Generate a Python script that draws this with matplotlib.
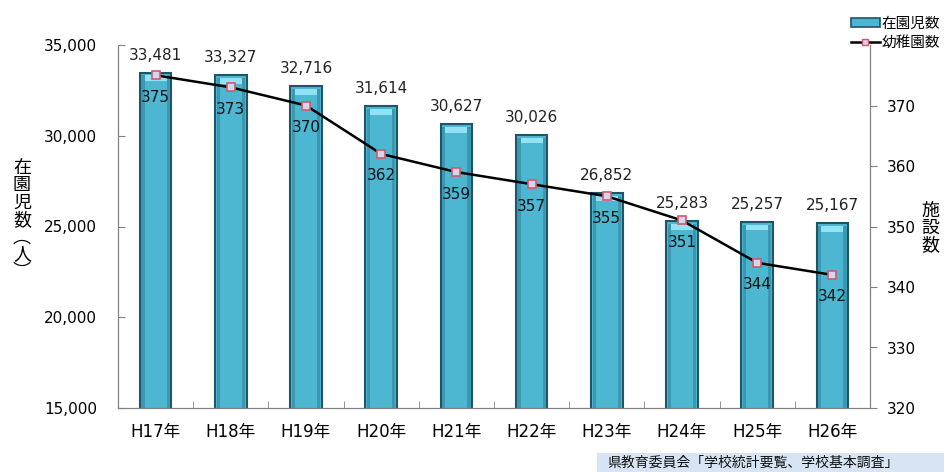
import numpy as np
import matplotlib.pyplot as plt
from matplotlib.patches import Rectangle
from matplotlib.lines import Line2D

plt.rcParams['font.family'] = ['DejaVu Sans', 'Noto Sans CJK JP']

# data
years    = ['H17年', 'H18年', 'H19年', 'H20年', 'H21年', 'H22年', 'H23年', 'H24年', 'H25年', 'H26年']
children = [33481, 33327, 32716, 31614, 30627, 30026, 26852, 25283, 25257, 25167]
schools  = [375, 373, 370, 362, 359, 357, 355, 351, 344, 342]

bar_col  = '#4DB6D1'
edge_col = '#1F5566'

fig = plt.figure(figsize=(9.44, 4.72), dpi=100)
ax = fig.add_axes([118/944, 64/472, 752/944, 363/472])
ax2 = ax.twinx()

x = np.arange(len(years))
bars = ax.bar(x, children, width=0.42, color=bar_col, edgecolor=edge_col, linewidth=1.5, zorder=2)

# bit of shading on the bars
for b in bars:
    x0, w, h = b.get_x(), b.get_width(), b.get_height()
    ax.add_patch(Rectangle((x0 + w*0.12, h - 450), w*0.76, 300, color='#93E2F4', lw=0, zorder=3))
    ax.add_patch(Rectangle((x0 + w*0.05, 15000), w*0.1, h - 15000 - 150, color='#3A98B0', lw=0, zorder=3))
    ax.add_patch(Rectangle((x0 + w*0.85, 15000), w*0.1, h - 15000 - 150, color='#3A98B0', lw=0, zorder=3))

for xi, v in zip(x, children):
    ax.text(xi, v + 550, f'{v:,}', ha='center', va='bottom', fontsize=11, color='#222222')

ax.set_ylim(15000, 35000)
ax.set_yticks(range(15000, 35001, 5000))
ax.set_yticklabels([f'{v:,}' for v in range(15000, 35001, 5000)], fontsize=11)
ax.set_xlim(-0.5, len(years) - 0.5)
ax.set_xticks(x)
ax.set_xticklabels(years, fontsize=12)
ax.tick_params(axis='x', length=0, pad=11)
ax.set_xticks(np.arange(0.5, len(years) - 1, 1), minor=True)
ax.tick_params(axis='x', which='minor', direction='in', length=5, color='#808080')
ax.tick_params(axis='y', direction='in', length=5, color='#808080', pad=15)

ax2.plot(x, schools, color='black', lw=1.8, marker='s', markersize=6,
         markerfacecolor='#D8D4EE', markeredgecolor='#D05A6A', markeredgewidth=1.2, zorder=5)
for xi, v in zip(x, schools):
    ax2.text(xi, v - 2.4, str(v), ha='center', va='top', fontsize=11, color='#111111')
ax2.set_ylim(320, 380)
ax2.set_yticks(range(320, 371, 10))
ax2.tick_params(axis='y', direction='out', length=5, color='#808080', labelsize=11, pad=7)

for a in (ax, ax2):
    a.spines['top'].set_visible(False)
    for s in ('left', 'right', 'bottom'):
        a.spines[s].set_color('#808080')
ax.set_zorder(ax2.get_zorder() - 1)
ax2.patch.set_visible(False)

fig.text(22/944, 1 - 220/472, '在\n園\n児\n数\n︵\n人\n︶', ha='center', va='center',
         fontsize=13, linespacing=0.95)
fig.text(930/944, 1 - 228/472, '施\n設\n数', ha='center', va='center', fontsize=13, linespacing=0.95)

handles = [Rectangle((0, 0), 1, 1, facecolor=bar_col, edgecolor=edge_col, lw=1.2),
           Line2D([], [], color='black', lw=1.8, marker='s', markersize=5,
                  markerfacecolor='#D8D4EE', markeredgecolor='#D05A6A')]
fig.legend(handles, ['在園児数', '幼稚園数'], loc='upper right', bbox_to_anchor=(1.005, 0.985),
           frameon=False, fontsize=10.5, handlelength=2.0, handleheight=0.5,
           handletextpad=0.1, labelspacing=0.25, borderaxespad=0.2)

# source box
fig.patches.append(Rectangle((597/944, 0), 347/944, 19/472, transform=fig.transFigure,
                             facecolor='#D6E4F4', edgecolor='none'))
fig.text(607/944, 9/472, '県教育委員会「学校統計要覧、学校基本調査」', ha='left', va='center',
         fontsize=10, color='#111111')

fig.savefig('out.png', dpi=100)
